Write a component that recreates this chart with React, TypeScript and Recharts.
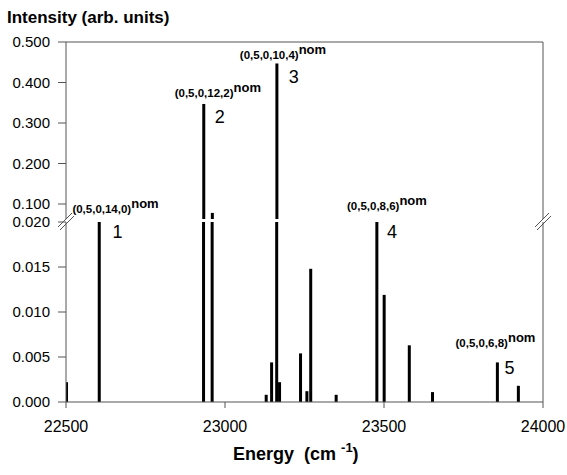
import { BarChart, Bar, XAxis, YAxis, ReferenceLine, ReferenceDot } from 'recharts';

// stick spectrum
const energies = [22502, 22605, 22933, 22960, 23130, 23147, 23163, 23172, 23238, 23258, 23270, 23350, 23478, 23501, 23580, 23653, 23857, 23923];
const intensities = [0.0022, 0.02, 0.347, 0.078, 0.0008, 0.0044, 0.447, 0.0022, 0.0054, 0.0012, 0.0148, 0.0008, 0.02, 0.0119, 0.0063, 0.0011, 0.0044, 0.0018];
const peakNumbers = ['', '1', '2', '', '', '', '3', '', '', '', '', '', '4', '', '', '', '5', ''];
const peakStates = ['', '(0,5,0,14,0)', '(0,5,0,12,2)', '', '', '', '(0,5,0,10,4)', '', '', '', '', '', '(0,5,0,8,6)', '', '', '', '(0,5,0,6,8)', ''];

const xTicks = [22500, 23000, 23500, 24000];
const upperTicks = [0.1, 0.2, 0.3, 0.4, 0.5];
const lowerTicks = [0, 0.005, 0.01, 0.015, 0.02];

const X_DOMAIN: [number, number] = [22500, 24000];
const UPPER_DOMAIN: [number, number] = [0.063, 0.5];
const LOWER_DOMAIN: [number, number] = [0, 0.02];

const W = 567;
const H = 475;
const AXIS = '#555';
const FONT = '"Liberation Sans", Arial, Helvetica, sans-serif';
const STICK_W = 3;

// where the state label and the peak number sit relative to the stick top
const TAG_OFFSETS: Record<string, { sx: number; sy: number; nx: number; ny: number }> = {
  '1': { sx: -27, sy: -9, nx: 13, ny: 16 },
  '2': { sx: -29, sy: -7, nx: 11, ny: 19 },
  '3': { sx: -37, sy: -4, nx: 12, ny: 20 },
  '4': { sx: -30, sy: -12, nx: 10, ny: 16 },
  '5': { sx: -42, sy: -15, nx: 7, ny: 12 },
};

const rows = energies.map((e, i) => ({
  energy: e,
  intensity: intensities[i],
  tag: peakNumbers[i],
  state: peakStates[i],
}));

const upperRows = rows.filter(r => r.intensity > UPPER_DOMAIN[0]);

const Stick = (props: any) => {
  const { x, y, width, height } = props;
  if (x == null || y == null || !isFinite(y)) return null;
  const cx = x + width / 2;
  const top = Math.min(y, y + height);
  return <rect x={cx - STICK_W / 2} y={top} width={STICK_W} height={Math.abs(height)} fill="#000" />;
};

const PeakTag = ({ cx, cy, tag, state }: any) => {
  const o = TAG_OFFSETS[tag];
  if (!o || cx == null) return null;
  return (
    <g fontFamily={FONT} fill="#000">
      <text x={cx + o.sx} y={cy + o.sy} fontSize={11.5} fontWeight="bold">
        {state}
        <tspan dy={-5} fontSize={13}>nom</tspan>
      </text>
      <text x={cx + o.nx} y={cy + o.ny} fontSize={18}>{tag}</text>
    </g>
  );
};

const BreakMark = ({ cx, cy }: any) => {
  if (cx == null) return null;
  return (
    <g stroke={AXIS} strokeWidth={1}>
      <line x1={cx - 8} y1={cy + 5} x2={cx + 6} y2={cy - 9} />
      <line x1={cx - 6} y1={cy + 8} x2={cx + 8} y2={cy - 6} />
    </g>
  );
};

// x tick label, baseline placed a fixed distance under the axis
const EnergyTick = ({ x, payload }: any) => (
  <text x={x} y={432} textAnchor="middle" fontSize={16} fontFamily={FONT} fill="#000">
    {payload.value}
  </text>
);

const tickStyle = { fontSize: 15, fill: '#000', fontFamily: FONT };

const UpperPanel = () => (
  <BarChart width={W} height={H} data={upperRows} margin={{ top: 42, right: 24, left: 6, bottom: 256 }}>
    <XAxis dataKey="energy" type="number" domain={X_DOMAIN} allowDataOverflow hide />
    <YAxis
      type="number"
      domain={UPPER_DOMAIN}
      allowDataOverflow
      ticks={upperTicks}
      interval={0}
      width={60}
      tickFormatter={(v: number) => v.toFixed(3)}
      tick={tickStyle}
      tickSize={8}
      tickMargin={8}
      axisLine={{ stroke: AXIS }}
      tickLine={{ stroke: AXIS }}
    />
    <ReferenceLine y={0.5} stroke={AXIS} />
    <ReferenceLine x={24000} stroke={AXIS} />
    <Bar dataKey="intensity" shape={Stick} isAnimationActive={false} />
    {upperRows.filter(r => r.tag).map(r => (
      <ReferenceDot
        key={r.tag}
        x={r.energy}
        y={r.intensity}
        ifOverflow="visible"
        shape={(p: any) => <PeakTag {...p} tag={r.tag} state={r.state} />}
      />
    ))}
  </BarChart>
);

const LowerPanel = () => (
  <BarChart width={W} height={H} data={rows} margin={{ top: 222, right: 24, left: 6, bottom: 43 }}>
    <XAxis
      dataKey="energy"
      type="number"
      domain={X_DOMAIN}
      allowDataOverflow
      ticks={xTicks}
      interval={0}
      height={30}
      tick={<EnergyTick />}
      tickSize={6}
      axisLine={{ stroke: AXIS }}
      tickLine={{ stroke: AXIS }}
    />
    <YAxis
      type="number"
      domain={LOWER_DOMAIN}
      allowDataOverflow
      ticks={lowerTicks}
      interval={0}
      width={60}
      tickFormatter={(v: number) => v.toFixed(3)}
      tick={tickStyle}
      tickSize={8}
      tickMargin={8}
      axisLine={{ stroke: AXIS }}
      tickLine={{ stroke: AXIS }}
    />
    <ReferenceLine x={24000} stroke={AXIS} />
    <Bar dataKey="intensity" shape={Stick} isAnimationActive={false} />
    {rows.filter(r => r.tag && r.intensity <= LOWER_DOMAIN[1]).map(r => (
      <ReferenceDot
        key={r.tag}
        x={r.energy}
        y={r.intensity}
        ifOverflow="visible"
        shape={(p: any) => <PeakTag {...p} tag={r.tag} state={r.state} />}
      />
    ))}
    <ReferenceDot x={X_DOMAIN[0]} y={LOWER_DOMAIN[1]} ifOverflow="visible" shape={BreakMark} />
    <ReferenceDot x={X_DOMAIN[1]} y={LOWER_DOMAIN[1]} ifOverflow="visible" shape={BreakMark} />
  </BarChart>
);

const App = () => (
  <div style={{ position: 'absolute', left: 0, top: 0, width: W, height: H, background: '#fff', fontFamily: FONT, color: '#000' }}>
    <div style={{ position: 'absolute', left: 7, top: 8, fontSize: 17, fontWeight: 'bold', lineHeight: '20px', whiteSpace: 'nowrap' }}>
      Intensity (arb. units)
    </div>
    <div style={{ position: 'absolute', left: 0, top: 0 }}>
      <UpperPanel />
    </div>
    <div style={{ position: 'absolute', left: 0, top: 0 }}>
      <LowerPanel />
    </div>
    <div style={{ position: 'absolute', left: 233, top: 444, fontSize: 18, fontWeight: 'bold', lineHeight: '20px', whiteSpace: 'nowrap' }}>
      Energy&nbsp; (cm <sup style={{ fontSize: 13, verticalAlign: 0, position: 'relative', top: -8 }}>-1</sup>)
    </div>
  </div>
);

export default App;
